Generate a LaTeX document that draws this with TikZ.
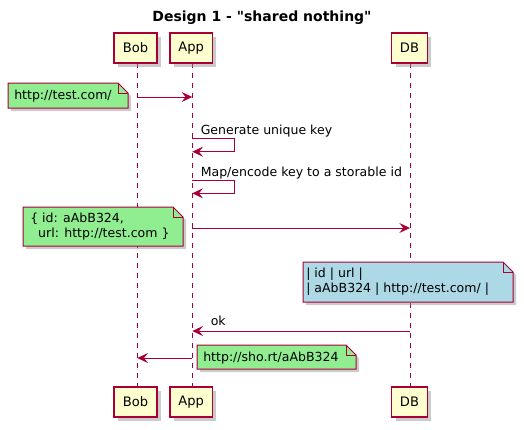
\documentclass[tikz,border=0pt]{standalone}
\usepackage{fontspec}
\setmainfont{DejaVu Sans}
\usetikzlibrary{arrows.meta,shadows}
\definecolor{umlred}{HTML}{A80036}
\definecolor{partfill}{HTML}{FEFECE}
\definecolor{notegreen}{HTML}{90EE90}
\definecolor{noteblue}{HTML}{ADD8E6}
\newcommand{\straightquote}{\XeTeXglyph\XeTeXcharglyph"22\relax}
\tikzset{
  part/.style={draw=umlred, line width=1.1pt, fill=partfill, minimum height=22.5pt,
    inner sep=0pt, font=\fontsize{9.8pt}{12pt}\selectfont,
    drop shadow={shadow xshift=3pt, shadow yshift=-3pt, fill=black!45, opacity=.45}},
  lifeline/.style={umlred, line width=0.75pt, dash pattern=on 3.75pt off 3.75pt},
  msg/.style={umlred, line width=0.75pt, -{Stealth[length=8pt,width=7.5pt,inset=3pt]}},
  txt/.style={anchor=base west, inner sep=0pt, font=\fontsize{9.4pt}{11pt}\selectfont},
  notefr/.style={draw=umlred, line width=0.75pt},
  noteshadow/.style={fill=black!45, opacity=.45},
}
\newcommand{\umlnote}[5]{%
  \fill[noteshadow] (#1+3,#2+3) -- (#3-10+3,#2+3) -- (#3+3,#2+13) -- (#3+3,#4+3) -- (#1+3,#4+3) -- cycle;
  \draw[notefr, fill=#5] (#1,#2) -- (#3-10,#2) -- (#3,#2+10) -- (#3,#4) -- (#1,#4) -- cycle;
  \draw[notefr] (#3-10,#2) -- (#3-10,#2+10) -- (#3,#2+10);
}
\begin{document}
\begin{tikzpicture}[x=0.75pt,y=-0.75pt]
\useasboundingbox (0,0) rectangle (524,429);
% title
\node[anchor=base, inner sep=0pt, font=\bfseries\fontsize{10.5pt}{12pt}\selectfont] (title) at (262,21.7) {Design 1 - \straightquote shared nothing\straightquote};
% lifeline ends
\coordinate (bobL0) at (137.3,63);  \coordinate (bobL1) at (137.3,387);
\coordinate (appL0) at (192.3,63);  \coordinate (appL1) at (192.3,387);
\coordinate (dbL0)  at (410,63);    \coordinate (dbL1)  at (410,387);
\draw[lifeline] (bobL0) -- (bobL1);
\draw[lifeline] (appL0) -- (appL1);
\draw[lifeline] (dbL0) -- (dbL1);
% participants
\node[part, minimum width=32pt]   (bobT) at (135.5,48)  {Bob};
\node[part, minimum width=31.7pt] (appT) at (191.2,48)  {App};
\node[part, minimum width=26.7pt] (dbT)  at (409.5,48)  {DB};
\node[part, minimum width=32pt]   (bobB) at (135.5,402) {Bob};
\node[part, minimum width=31.7pt] (appB) at (191.2,402) {App};
\node[part, minimum width=26.7pt] (dbB)  at (409.5,402) {DB};
% message 1
\coordinate (b1) at (137.3,97); \coordinate (a1) at (192.3,97);
\draw[msg] (b1) -- (a1);
\umlnote{8}{83}{128}{108}{notegreen}
\node[txt] (n1) at (14,99) {http://test.com/};
% self message 1
\node[txt] (l2) at (200.5,134) {Generate unique key};
\coordinate (a2) at (192.3,138.3); \coordinate (a2b) at (192.3,151.7);
\draw[msg] (a2) -- ++(42,0) |- (a2b);
% self message 2
\node[txt] (l3) at (200.5,176) {Map/encode key to a storable id};
\coordinate (a3) at (192.3,180.7); \coordinate (a3b) at (192.3,193.3);
\draw[msg] (a3) -- ++(42,0) |- (a3b);
% message 4
\coordinate (a4) at (192.3,228); \coordinate (d4) at (410,228);
\draw[msg] (a4) -- (d4);
\umlnote{23}{207}{183}{246}{notegreen}
\node[txt] (n2a) at (30,222.5) {\{ id: aAbB324,};
\node[txt] (n2b) at (30,237.5) {\ \ url: http://test.com \}};
% note over DB
\umlnote{303}{262}{513}{302}{noteblue}
\node[txt] (n3a) at (306,277.5) {| id | url |};
\node[txt] (n3b) at (306,292.5) {| aAbB324 | http://test.com/ |};
% message 6
\node[txt] (l6) at (210.5,325.7) {ok};
\coordinate (d6) at (410,331); \coordinate (a6) at (192.3,331);
\draw[msg] (d6) -- (a6);
% message 7
\coordinate (a7) at (192.3,358); \coordinate (b7) at (137.3,358);
\draw[msg] (a7) -- (b7);
\umlnote{197}{345}{356}{369}{notegreen}
\node[txt] (n4) at (203,361) {http://sho.rt/aAbB324};
\end{tikzpicture}
\end{document}
